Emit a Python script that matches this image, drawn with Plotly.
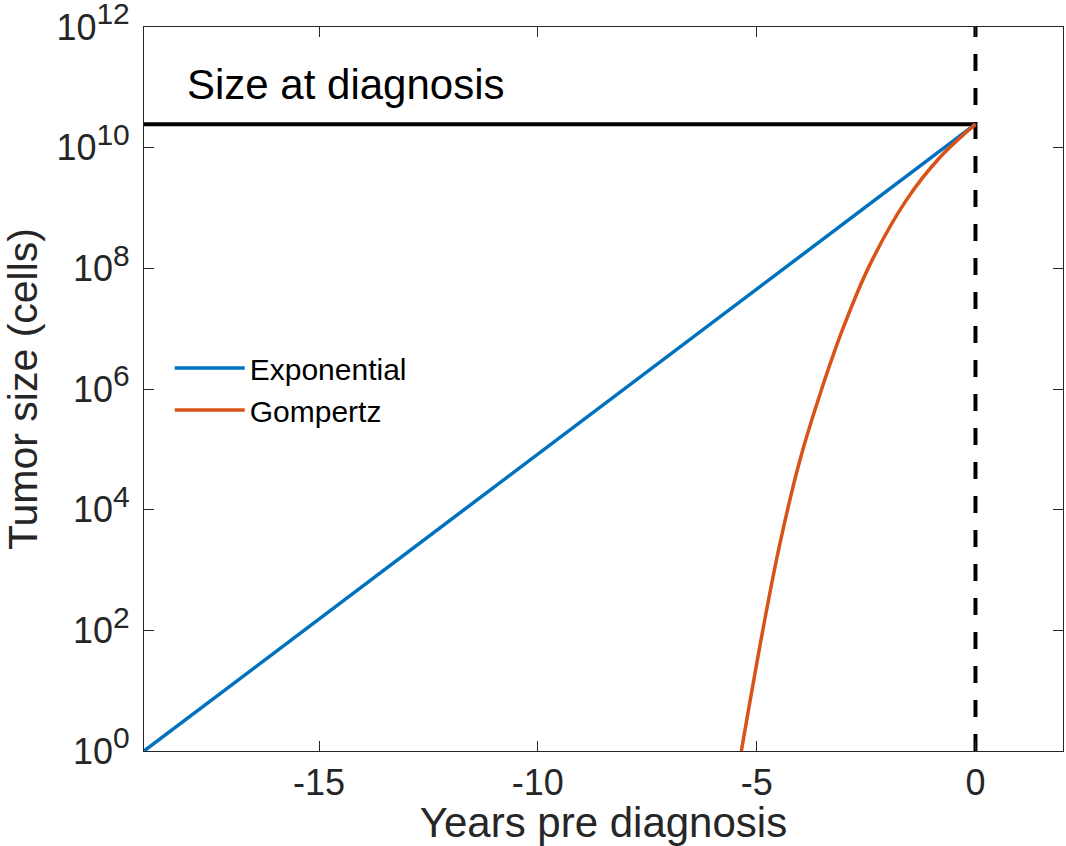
import plotly.graph_objects as go

# ---- data ----
exp_years = [-19.0, 0.0]
exp_cells = [1.0, 2.45e10]

gomp_years = [-5.35, -4.86, -4.48, -4.02, -3.56, -3.03, -2.42, -1.58, -0.82, 0.0]
gomp_cells = [1.0, 1.0e2, 2.5e3, 6.3e4, 7.9e5, 1.0e7, 1.12e8, 1.35e9, 6.8e9, 2.45e10]

diag_years = [-19.0, 0.0]
diag_cells = [2.45e10, 2.45e10]

vline_years = [0.0, 0.0]
vline_cells = [1.0, 1e12]

x_tickvals = [-15, -10, -5, 0]
x_ticktext = ["-15", "-10", "-5", "0"]
y_tickvals = [1, 1e2, 1e4, 1e6, 1e8, 1e10, 1e12]
y_exponents = ["0", "2", "4", "6", "8", "10", "12"]
y_ticktext = ["10<sup><span style='font-size:30px'>%s</span></sup>" % e for e in y_exponents]

FONT = "Liberation Sans, Arial, Helvetica, sans-serif"
AX = "#262626"

fig = go.Figure()
fig.add_trace(go.Scatter(x=diag_years, y=diag_cells, mode="lines",
                         line=dict(color="black", width=4), showlegend=False, hoverinfo="skip"))
fig.add_trace(go.Scatter(x=vline_years, y=vline_cells, mode="lines",
                         line=dict(color="black", width=4, dash="17px,17px"),
                         showlegend=False, hoverinfo="skip"))
fig.add_trace(go.Scatter(x=exp_years, y=exp_cells, mode="lines", name="Exponential",
                         line=dict(color="#0072BD", width=3.5)))
fig.add_trace(go.Scatter(x=gomp_years, y=gomp_cells, mode="lines", name="Gompertz",
                         line=dict(color="#D95319", width=3.5, shape="spline", smoothing=1.0)))

fig.add_annotation(text="Size at diagnosis", xref="x", yref="paper", x=-18.07, y=0.92,
                   xanchor="left", yanchor="middle", showarrow=False,
                   font=dict(family=FONT, size=42, color="black"))

fig.update_xaxes(range=[-19, 2], tickvals=x_tickvals, ticktext=x_ticktext, ticks="inside",
                 ticklen=10, tickwidth=1, automargin=False,
                 tickcolor=AX, showline=True, linecolor=AX, linewidth=1, mirror="allticks",
                 showgrid=False, zeroline=False,
                 tickfont=dict(family=FONT, size=36, color=AX),
                 title=dict(text="Years pre diagnosis", font=dict(family=FONT, size=42, color=AX),
                            standoff=0))
fig.update_yaxes(type="log", range=[0, 12], tickvals=y_tickvals, ticktext=y_ticktext,
                 ticks="inside", ticklen=10, tickwidth=1, tickcolor=AX, showline=True,
                 linecolor=AX, linewidth=1, mirror="allticks", showgrid=False, zeroline=False,
                 automargin=False, ticklabelstandoff=6, ticklabeloverflow="allow",
                 tickfont=dict(family=FONT, size=36, color=AX),
                 title=dict(text="Tumor size (cells)", font=dict(family=FONT, size=41, color=AX),
                            standoff=19))

fig.update_layout(width=1066, height=846, plot_bgcolor="white", paper_bgcolor="white",
                  margin=dict(l=144, r=3, t=27, b=95),
                  legend=dict(x=0.028, y=0.50, xanchor="left", yanchor="middle",
                              bgcolor="rgba(0,0,0,0)", font=dict(family=FONT, size=30, color="black"),
                              itemwidth=70, tracegroupgap=0))

# remove the default 8px page margin so the figure fills the window exactly
fig.write_html("out.html", config={"displayModeBar": False},
               post_script="document.body.style.margin='0';document.body.style.overflow='hidden';")
